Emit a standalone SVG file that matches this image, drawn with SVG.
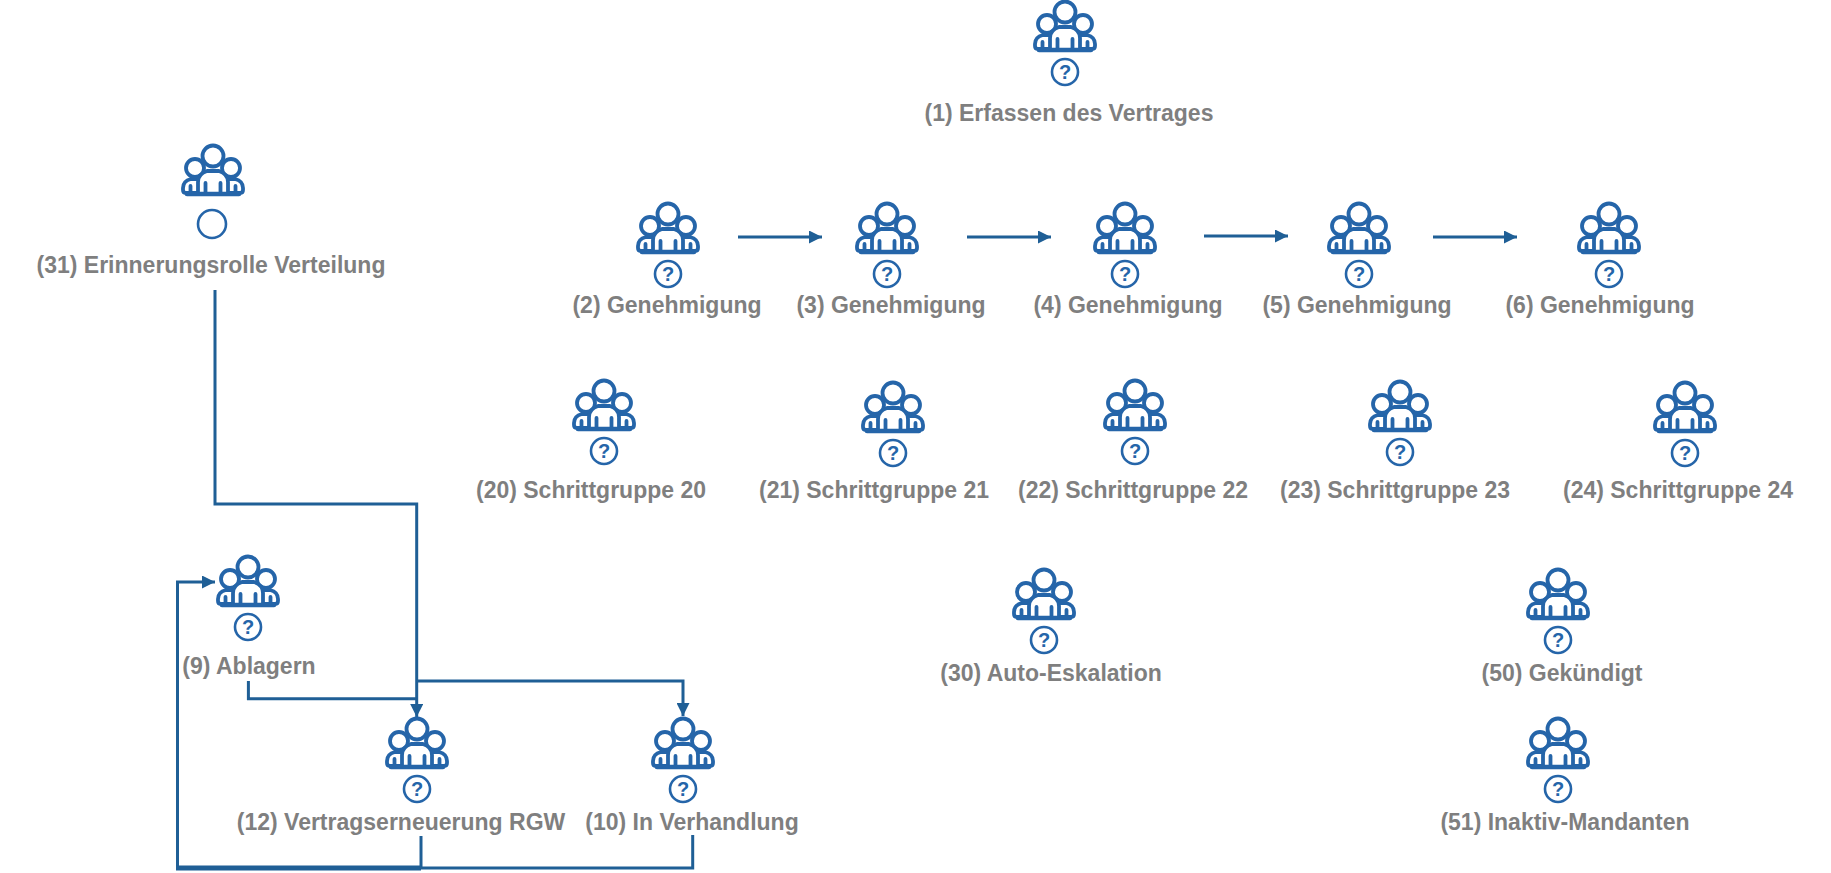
<svg xmlns="http://www.w3.org/2000/svg" width="1831" height="873" viewBox="0 0 1831 873">
<style>
text{font-family:"Liberation Sans",Arial,sans-serif}
.l{font-size:23px;font-weight:700;fill:#7f7f7f;text-anchor:middle}
.q{font-size:20px;font-weight:700;fill:#2565a9;text-anchor:middle}
.c{fill:none;stroke:#1f5f96;stroke-width:3}
.i{fill:#fff;stroke:#2565a9;stroke-width:3.8;stroke-linejoin:round;stroke-linecap:round}
.b{fill:none;stroke:#2565a9;stroke-width:4.6;stroke-linecap:round}
.o{fill:#fff;stroke:#2565a9;stroke-width:2.6}
</style>
<defs>
<marker id="a" markerUnits="userSpaceOnUse" markerWidth="14" markerHeight="13" refX="13" refY="6.500" orient="auto"><path d="M0,0L13,6.500L0,13Z" fill="#1f5f96"/></marker>
<g id="p">
<circle class="i" cx="-18" cy="9" r="9"/><circle class="i" cx="18" cy="9" r="9"/>
<path class="i" d="M-21,34H-27Q-30,34 -30,31V29Q-30,22 -22,20H22Q30,22 30,29V31Q30,34 27,34H21Z"/>
<path class="i" d="M-22.500,27V34M22.500,27V34"/>
<path class="i" d="M-15,35V23Q-15,15 -6,12H6Q15,15 15,23V35Z"/>
<path class="i" d="M-7.500,24V35M7.500,24V35"/>
<circle class="i" cx="0" cy="-3" r="10.500"/>
<path class="b" d="M-26,35H26"/>
</g>
<g id="u"><use href="#p"/><circle class="o" cx="0" cy="57" r="13"/><text class="q" x="0" y="64">?</text></g>
</defs>
<g id="connectors">
<path class="c" marker-end="url(#a)" d="M738,237H822"/>
<path class="c" marker-end="url(#a)" d="M967,237H1051"/>
<path class="c" marker-end="url(#a)" d="M1204,236H1288"/>
<path class="c" marker-end="url(#a)" d="M1433,237H1517"/>
<path class="c" marker-end="url(#a)" d="M215,290V504H416.700V717"/>
<path class="c" d="M248.400,681V698.700H416.700"/>
<path class="c" marker-end="url(#a)" d="M416.700,681H683V716"/>
<path class="c" marker-end="url(#a)" d="M177.500,868V582H215"/>
<path class="c" style="stroke-width:5" d="M421,868H176"/>
<path class="c" d="M421,836V868"/>
<path class="c" d="M692.700,835V868H421"/>
</g>
<g id="n1"><use href="#u" x="1065" y="15"/><text class="l" x="1069" y="121">(1) Erfassen des Vertrages</text></g>
<g id="n2"><use href="#u" x="668" y="217"/><text class="l" x="667" y="313">(2) Genehmigung</text></g>
<g id="n3"><use href="#u" x="887" y="217"/><text class="l" x="891" y="313">(3) Genehmigung</text></g>
<g id="n4"><use href="#u" x="1125" y="217"/><text class="l" x="1128" y="313">(4) Genehmigung</text></g>
<g id="n5"><use href="#u" x="1359" y="217"/><text class="l" x="1357" y="313">(5) Genehmigung</text></g>
<g id="n6"><use href="#u" x="1609" y="217"/><text class="l" x="1600" y="313">(6) Genehmigung</text></g>
<g id="n20"><use href="#u" x="604" y="394"/><text class="l" x="591" y="498">(20) Schrittgruppe 20</text></g>
<g id="n21"><use href="#u" x="893" y="396"/><text class="l" x="874" y="498">(21) Schrittgruppe 21</text></g>
<g id="n22"><use href="#u" x="1135" y="394"/><text class="l" x="1133" y="498">(22) Schrittgruppe 22</text></g>
<g id="n23"><use href="#u" x="1400" y="395"/><text class="l" x="1395" y="498">(23) Schrittgruppe 23</text></g>
<g id="n24"><use href="#u" x="1685" y="396"/><text class="l" x="1678" y="498">(24) Schrittgruppe 24</text></g>
<g id="n30"><use href="#u" x="1044" y="583"/><text class="l" x="1051" y="681">(30) Auto-Eskalation</text></g>
<g id="n50"><use href="#u" x="1558" y="583"/><text class="l" x="1562" y="681">(50) Gekündigt</text></g>
<g id="n51"><use href="#u" x="1558" y="732"/><text class="l" x="1565" y="830">(51) Inaktiv-Mandanten</text></g>
<g id="n9"><use href="#u" x="248" y="570"/><text class="l" x="249" y="674">(9) Ablagern</text></g>
<g id="n12"><use href="#u" x="417" y="732"/><text class="l" x="401" y="830">(12) Vertragserneuerung RGW</text></g>
<g id="n10"><use href="#u" x="683" y="732"/><text class="l" x="692" y="830">(10) In Verhandlung</text></g>
<g id="n31"><use href="#p" x="213" y="159"/><circle class="o" cx="212" cy="224" r="14"/><text class="l" x="211" y="273">(31) Erinnerungsrolle Verteilung</text></g>
</svg>
